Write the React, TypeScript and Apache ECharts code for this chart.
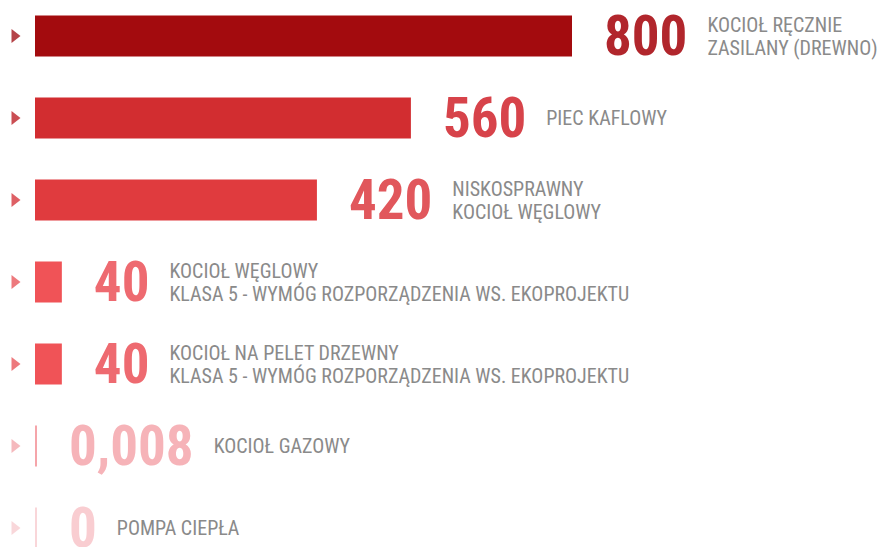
import React, { useEffect, useRef } from "react";
import * as echarts from "echarts";

// ---- data ----
const categories = [
  "Kocioł ręcznie zasilany (drewno)",
  "Piec kaflowy",
  "Niskosprawny kocioł węglowy",
  "Kocioł węglowy klasa 5",
  "Kocioł na pelet drzewny klasa 5",
  "Kocioł gazowy",
  "Pompa ciepła",
];
const values = [800, 560, 420, 40, 40, 0.008, 0];
const valueLabels = ["800", "560", "420", "40", "40", "0,008", "0"];
const descriptions = [
  "KOCIOŁ RĘCZNIE\nZASILANY (DREWNO)",
  "PIEC KAFLOWY",
  "NISKOSPRAWNY\nKOCIOŁ WĘGLOWY",
  "KOCIOŁ WĘGLOWY\nKLASA 5 - WYMÓG ROZPORZĄDZENIA WS. EKOPROJEKTU",
  "KOCIOŁ NA PELET DRZEWNY\nKLASA 5 - WYMÓG ROZPORZĄDZENIA WS. EKOPROJEKTU",
  "KOCIOŁ GAZOWY",
  "POMPA CIEPŁA",
];

// ---- styles ----
const barColors = ["#a30b0e", "#d22d30", "#e03b3e", "#f05357", "#f05357", "#f5a5aa", "#f9d6d9"];
const numColors = ["#b1262c", "#d7434a", "#e1575c", "#ee6a70", "#ee6a70", "#f6b3b8", "#f9cdd1"];
const triColors = ["#a3141a", "#bd2228", "#d6383e", "#e8575d", "#e8575d", "#f2a7ad", "#f7cdd1"];

const NUM_FONT = '"Roboto Condensed", "Liberation Sans Narrow", "DejaVu Sans Condensed", sans-serif';
const TXT_FONT = NUM_FONT;
const NUM_SIZE = 55;
const NUM_WEIGHT = "bold";
const NUM_DIST = 32;
const GAP = 20;

function measure(text: string, font: string): number {
  const c = document.createElement("canvas");
  const ctx = c.getContext("2d");
  if (!ctx) return text.length * 25;
  ctx.font = font;
  return ctx.measureText(text).width;
}

export default function App() {
  const ref = useRef<HTMLDivElement>(null);
  useEffect(() => {
    document.body.style.margin = "0";
    document.body.style.overflow = "hidden";
    if (!ref.current) return;
    const chart = echarts.init(ref.current, undefined, { renderer: "svg" });
    const numWidths = valueLabels.map((t) => measure(t, `${NUM_WEIGHT} ${NUM_SIZE}px ${NUM_FONT}`));
    chart.setOption({
      animation: false,
      backgroundColor: "#ffffff",
      grid: { left: 35, top: 0, width: 537, height: 574, containLabel: false },
      xAxis: { type: "value", min: 0, max: 800, show: false },
      yAxis: { type: "category", data: categories, inverse: true, show: false },
      series: [
        {
          type: "bar",
          barWidth: 41,
          barGap: "-100%",
          barMinHeight: 2,
          data: values.map((v, i) => ({
            value: v,
            itemStyle: { color: barColors[i] },
            label: { color: numColors[i] },
          })),
          label: {
            show: true,
            position: "right",
            distance: NUM_DIST,
            formatter: (p: any) => valueLabels[p.dataIndex],
            fontSize: NUM_SIZE,
            fontWeight: NUM_WEIGHT,
            fontFamily: NUM_FONT,
          },
        },
        {
          type: "bar",
          barWidth: 41,
          barGap: "-100%",
          barMinHeight: 2,
          itemStyle: { color: "rgba(0,0,0,0)" },
          data: values.map((v, i) => ({
            value: v,
            label: { distance: NUM_DIST + numWidths[i] + GAP },
          })),
          label: {
            show: true,
            position: "right",
            formatter: (p: any) => descriptions[p.dataIndex],
            fontSize: 20,
            lineHeight: 23,
            fontFamily: TXT_FONT,
            color: "#8a8a8a",
          },
        },
        {
          type: "scatter",
          clip: false,
          symbol: "triangle",
          symbolRotate: -90,
          symbolSize: [14, 9],
          symbolOffset: [-19, 0],
          data: categories.map((c, i) => ({ value: [0, c], itemStyle: { color: triColors[i] } })),
        },
      ],
    });
    return () => chart.dispose();
  }, []);
  return (
    <div
      ref={ref}
      style={{ width: 881, height: 574, position: "absolute", left: 0, top: -5 }}
    />
  );
}
